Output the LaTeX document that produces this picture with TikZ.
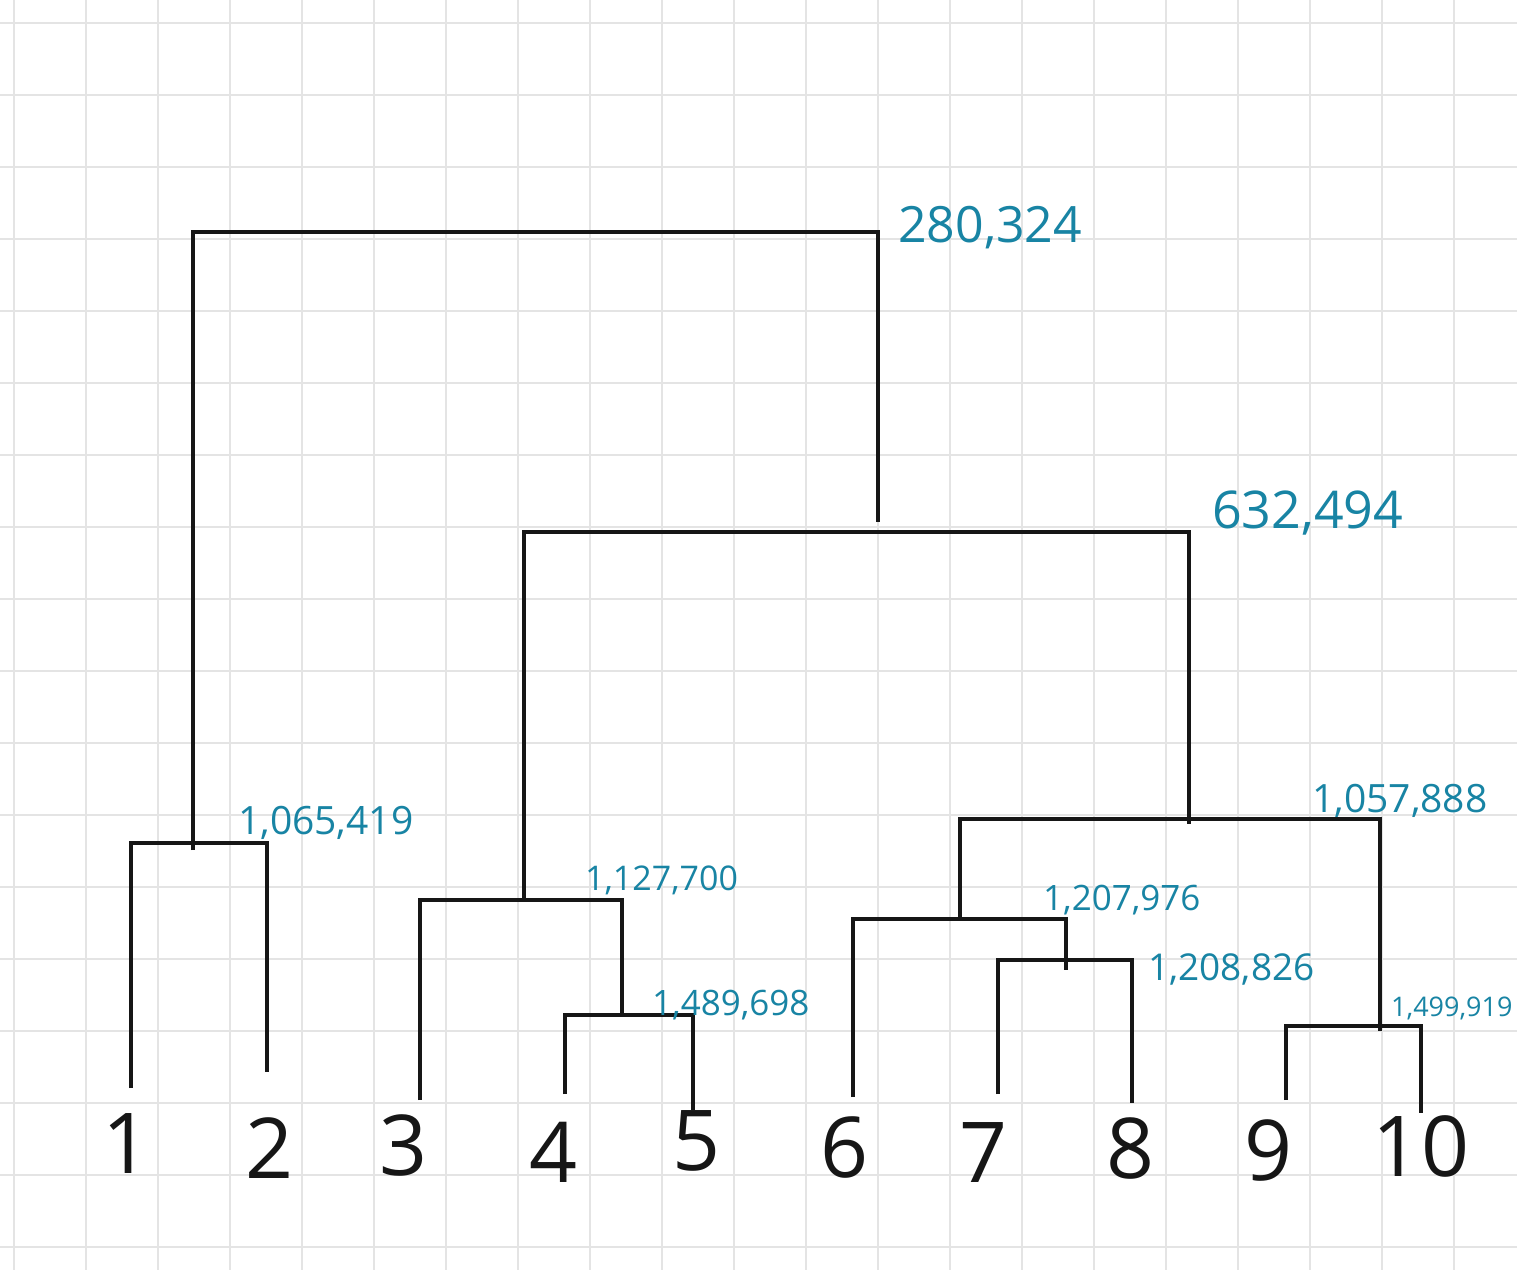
\documentclass[tikz,border=0pt]{standalone}
\usepackage{fontspec}
\setmainfont{Open Sans}
\definecolor{hgtcol}{RGB}{24,132,164}
\definecolor{gridc}{RGB}{228,228,228}
\definecolor{inkc}{RGB}{22,22,22}
\begin{document}
\begin{tikzpicture}[x=1pt,y=-1pt,
  gridline/.style={draw=gridc,line width=2pt},
  link/.style={draw=inkc,line width=3.5pt},
  leaf/.style={inner sep=0pt,text=inkc,font=\fontsize{84}{84}\selectfont},
  hgt/.style={inner sep=0pt,anchor=base west,text=hgtcol},
  ]
\fill[white] (0,0) rectangle (1517,1270);
\useasboundingbox (0,0) rectangle (1517,1270);
% grid paper
\foreach \i in {0,...,20} \draw[gridline] (14+72*\i,0) -- (14+72*\i,1270);
\foreach \j in {0,...,17} \draw[gridline] (0,23+72*\j) -- (1517,23+72*\j);

% leaves
\node[leaf] (l1) at (127,1143) {1};
\node[leaf] (l2) at (270,1148) {2};
\node[leaf] (l3) at (404,1145) {3};
\node[leaf] (l4) at (554,1152) {4};
\node[leaf] (l5) at (697,1141) {5};
\node[leaf] (l6) at (845,1147) {6};
\node[leaf] (l7) at (984,1152) {7};
\node[leaf] (l8) at (1130,1148) {8};
\node[leaf] (l9) at (1268,1150) {9};
\node[leaf] (l10) at (1421,1146) {10};

% stem ends above the leaves
\coordinate (s1) at (131,1088);
\coordinate (s2) at (267,1072);
\coordinate (s3) at (420,1100);
\coordinate (s4) at (565,1094);
\coordinate (s5) at (693,1110);
\coordinate (s6) at (853,1097);
\coordinate (s7) at (998,1094);
\coordinate (s8) at (1132,1103);
\coordinate (s9) at (1286,1100);
\coordinate (s10) at (1421,1113);

% merge bars (point on the bar where the upper stem meets it)
\coordinate (m12) at (193,843);
\coordinate (m45) at (622,1015);
\coordinate (m345) at (524,900);
\coordinate (m78) at (1066,960);
\coordinate (m678) at (960,919);
\coordinate (m910) at (1380,1026);
\coordinate (m6to10) at (1189,819);
\coordinate (m3to10) at (878,532);
\coordinate (mroot) at (540,232);

% lower ends of the upper stems
\coordinate (u12) at (193,850);
\coordinate (u45) at (622,1017);
\coordinate (u345) at (524,900);
\coordinate (u78) at (1066,970);
\coordinate (u678) at (960,919);
\coordinate (u910) at (1380,1031);
\coordinate (u6to10) at (1189,824);
\coordinate (u3to10) at (878,522);

% clusters
\draw[link] (s1) |- (m12) -| (s2);
\draw[link] (s4) |- (m45) -| (s5);
\draw[link] (s3) |- (m345) -| (u45);
\draw[link] (s7) |- (m78) -| (s8);
\draw[link] (s6) |- (m678) -| (u78);
\draw[link] (s9) |- (m910) -| (s10);
\draw[link] (u678) |- (m6to10) -| (u910);
\draw[link] (u345) |- (m3to10) -| (u6to10);
\draw[link] (u12) |- (mroot) -| (u3to10);

% heights
\node[hgt,font=\fontsize{50}{50}\selectfont] (hroot) at (898,242) {280,324};
\node[hgt,font=\fontsize{52}{52}\selectfont] (h3to10) at (1212,528) {632,494};
\node[hgt,font=\fontsize{39}{39}\selectfont] (h12) at (238,834) {1,065,419};
\node[hgt,font=\fontsize{34}{34}\selectfont] (h345) at (585,890) {1,127,700};
\node[hgt,font=\fontsize{35}{35}\selectfont] (h45) at (652,1015) {1,489,698};
\node[hgt,font=\fontsize{39}{39}\selectfont] (h6to10) at (1312,812) {1,057,888};
\node[hgt,font=\fontsize{35}{35}\selectfont] (h678) at (1043,910) {1,207,976};
\node[hgt,font=\fontsize{37}{37}\selectfont] (h78) at (1148,980) {1,208,826};
\node[hgt,font=\fontsize{27}{27}\selectfont] (h910) at (1391,1016) {1,499,919};
\end{tikzpicture}
\end{document}
